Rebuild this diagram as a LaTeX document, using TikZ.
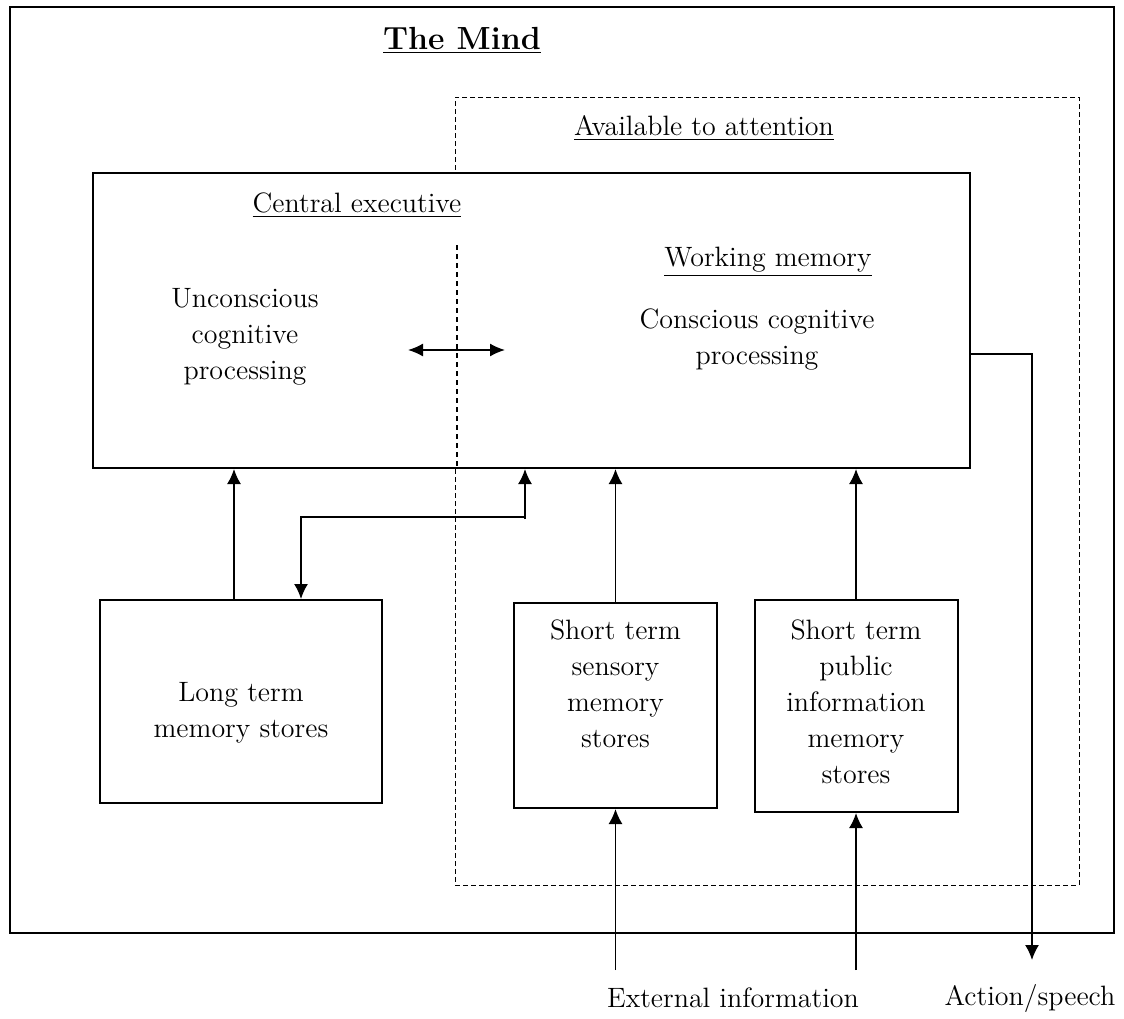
\documentclass[tikz,border=0pt]{standalone}
\usetikzlibrary{arrows.meta,positioning}

\begin{document}
\begin{tikzpicture}[
        x=0.5pt, y=-0.5pt,
        font=\fontsize{14}{18}\selectfont,
        box/.style={rectangle, draw=black, line width=1pt, fill=white, inner sep=0pt},
        txt/.style={align=center, inner sep=0pt},
        arr/.style={-{Latex[length=7.5pt,width=7pt]}, line width=0.8pt},
        dualarr/.style={{Latex[length=7.5pt,width=6.5pt]}-{Latex[length=7.5pt,width=6.5pt]}, line width=0.8pt},
        divider/.style={dash pattern=on 2.5pt off 2pt, line width=0.7pt},
        attnbox/.style={rectangle, draw=black, dash pattern=on 2.5pt off 1.5pt, line width=0.5pt, inner sep=0pt}
    ]
    \useasboundingbox (0,0) rectangle (1124,1018);

    % Boxes
    \node[box, fill=none, line width=1.3pt, minimum width=552pt, minimum height=463pt] (mind) at (562,470) {};
    \node[attnbox, minimum width=312pt, minimum height=394pt] (attn) at (767,491) {};
    \node[box, minimum width=438.5pt, minimum height=147.5pt] (central) at (531.5,320.5) {};
    \node[box, minimum width=141pt, minimum height=101.5pt] (longterm) at (241,701.5) {};
    \node[box, minimum width=101.5pt, minimum height=102.5pt] (sensory) at (615.5,705.5) {};
    \node[box, minimum width=101.5pt, minimum height=106pt] (public) at (856,706) {};

    % Labels
    \node[txt, font=\fontsize{16}{18}\selectfont\bfseries] (title) at (462,40) {\underline{The Mind}};
    \node[txt] (attnlabel) at (704,128) {\underline{Available to attention}};
    \node[txt] (celabel) at (357,205) {\underline{Central executive}};
    \node[txt] (wmlabel) at (768,262) {\underline{Working memory}};
    \node[txt] (uncon) at (245,337) {Unconscious\\cognitive\\processing};
    \node[txt] (con) at (757,340) {Conscious cognitive\\processing};
    \node[txt] (longtxt) at (241,713) {Long term\\memory stores};
    \node[txt, below=8.5pt of sensory.north] (sensorytxt) {Short term\\sensory\\memory\\stores};
    \node[txt, below=10pt of public.north] (publictxt) {Short term\\public\\information\\memory\\stores};
    \node[txt] (extinfo) at (733,998) {External information};
    \node[txt] (action) at (1030,998) {Action/speech};

    % Divider
    \coordinate (divtop) at (457,245);
    \draw[divider] (divtop) -- (divtop |- central.south);

    % Connections
    \coordinate (uleft) at (408,350);
    \coordinate (uright) at (505,350);
    \coordinate (split) at (525,517);
    \coordinate (extl) at (615.5,970);
    \coordinate (extr) at (856,970);
    \coordinate (actend) at (1032,960);
    \draw[dualarr] (uleft) -- (uright);
    \draw[arr] ([xshift=-3.5pt]longterm.north) -- ([xshift=-3.5pt]longterm.north |- central.south);
    \draw[arr] ([yshift=-1pt]split) -- (split |- central.south);
    \draw[arr] (split) -| ([xshift=30pt]longterm.north);
    \draw[arr] (sensory.north) -- (sensory.north |- central.south);
    \draw[arr] (public.north) -- (public.north |- central.south);
    \draw[arr] (extl) -- (sensory.south);
    \draw[arr] (extr) -- (public.south);
    \draw[arr] ([yshift=-16.75pt]central.east) -| (actend);

\end{tikzpicture}
\end{document}
